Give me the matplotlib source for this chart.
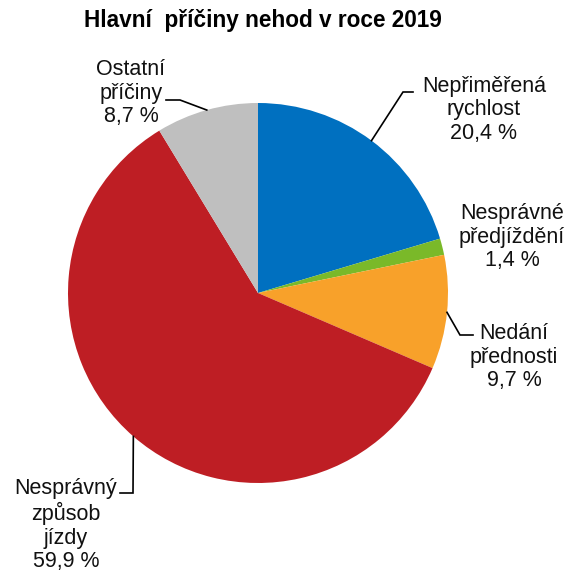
import numpy as np
import matplotlib
matplotlib.use("Agg")
import matplotlib.pyplot as plt

# data
labels = ["Nepřiměřená\nrychlost", "Nesprávné\npředjíždění", "Nedání\npřednosti",
          "Nesprávný\nzpůsob\njízdy", "Ostatní\npříčiny"]
values = [20.4, 1.4, 9.7, 59.9, 8.7]
colors = ["#0070C0", "#7AB929", "#F8A12A", "#BE1E24", "#BFBFBF"]

plt.rcParams['font.family'] = ['Liberation Sans', 'DejaVu Sans']

W, H = 569, 574
fig = plt.figure(figsize=(W / 100, H / 100), dpi=100)
ax = fig.add_axes([0, 0, 1, 1])

cx, cy, r = 258, H - 293, 190
wedges, _ = ax.pie(values, colors=colors, startangle=90, counterclock=False,
                   center=(cx, cy), radius=r, frame=True,
                   wedgeprops=dict(linewidth=0))
ax.set_xlim(0, W)
ax.set_ylim(0, H)
ax.set_aspect('equal')
ax.axis('off')

# label layout: (elbow point, end point, text centre) in pixel coords (y from top)
layout = [
    ((403, 92), (413, 92), (484, 110)),
    (None, None, (512, 237)),
    ((460, 335), (473, 335), (514, 357)),
    ((133, 493), (120, 493), (66, 525)),
    ((180, 100), (166, 100), (131, 93)),
]

for w, v, lab, (elb, end, tpos) in zip(wedges, values, labels, layout):
    ang = np.deg2rad((w.theta1 + w.theta2) / 2)
    if elb is not None:
        sx = cx + r * np.cos(ang)
        sy = cy + r * np.sin(ang)
        ax.plot([sx, elb[0], end[0]], [sy, H - elb[1], H - end[1]],
                color='black', lw=1.2, solid_joinstyle='miter')
    txt = lab + "\n" + ("%.1f" % v).replace('.', ',') + " %"
    ax.text(tpos[0], H - tpos[1], txt, ha='center', va='center', fontsize=15.5,
            linespacing=1.17, color='#111111')

ax.text(263, H - 20, "Hlavní  příčiny nehod v roce 2019", ha='center', va='center',
        fontsize=16.3, fontweight='bold')

fig.savefig("out.png", dpi=100)
